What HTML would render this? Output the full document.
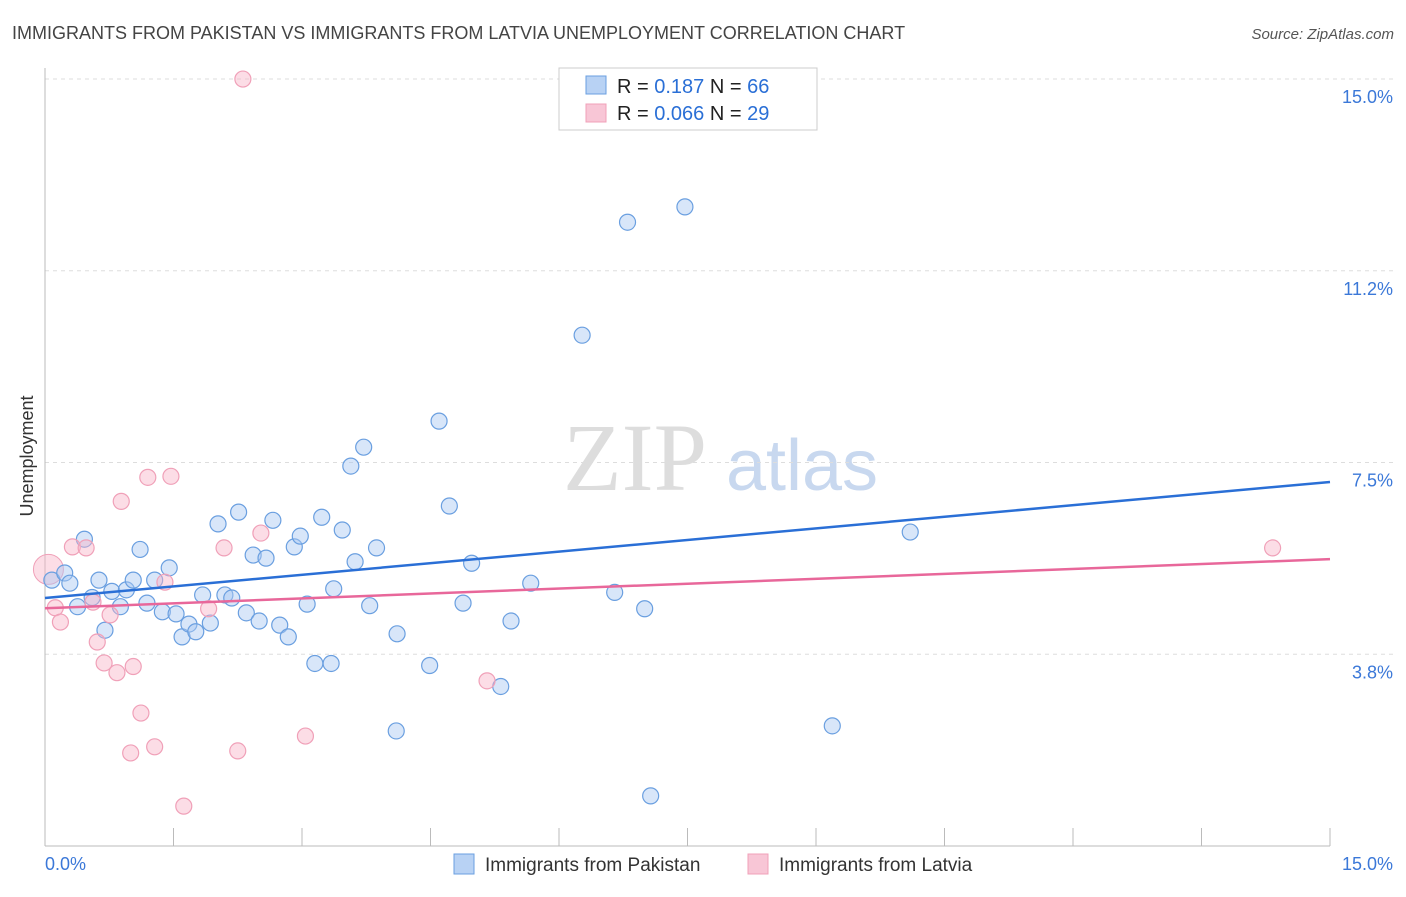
<!DOCTYPE html>
<html><head><meta charset="utf-8"><style>
body{margin:0;background:#fff;font-family:"Liberation Sans",sans-serif;}
</style></head><body>
<svg id="chart" width="1406" height="892" xmlns="http://www.w3.org/2000/svg" font-family="Liberation Sans, sans-serif">
<text x="12" y="39" font-size="18" fill="#444">IMMIGRANTS FROM PAKISTAN VS IMMIGRANTS FROM LATVIA UNEMPLOYMENT CORRELATION CHART</text>
<text x="1394" y="39" font-size="15" fill="#555" text-anchor="end" font-style="italic">Source: ZipAtlas.com</text>
<text transform="translate(33,456) rotate(-90)" font-size="18" fill="#333" text-anchor="middle">Unemployment</text>
<g>
<text x="635" y="490" font-size="96" fill="#ddd" font-family="Liberation Serif, serif" text-anchor="middle">ZIP</text>
<text x="802" y="490" font-size="72" fill="#c8d8ef" text-anchor="middle">atlas</text>
</g>
<g id="grid"></g><g id="axes"></g><g id="pts"></g><g id="lines"></g>
<g>
<rect x="559" y="68" width="258" height="62" fill="#fff" stroke="#ccc"/>
<rect x="586" y="76" width="20" height="18" fill="#b8d2f4" stroke="#6a9fe0"/>
<text x="617" y="93" font-size="20" fill="#222">R =  <tspan fill="#2a6fd6">0.187</tspan>    N = <tspan fill="#2a6fd6">66</tspan></text>
<rect x="586" y="104" width="20" height="18" fill="#f8c6d6" stroke="#f0a0b8"/>
<text x="617" y="120" font-size="20" fill="#222">R = <tspan fill="#2a6fd6">0.066</tspan>    N = <tspan fill="#2a6fd6">29</tspan></text>
</g>
<g>
<rect x="454" y="854" width="20" height="20" fill="#b8d2f4" stroke="#6a9fe0"/>
<text x="485" y="871" font-size="19" fill="#333">Immigrants from Pakistan</text>
<rect x="748" y="854" width="20" height="20" fill="#f8c6d6" stroke="#f0a0b8"/>
<text x="779" y="871" font-size="19" fill="#333">Immigrants from Latvia</text>
</g>
</svg>
<script>
const yTicks=[3.75,7.5,11.25,15];
const yTickLabels=["3.8%","7.5%","11.2%","15.0%"];
const xTicks=[0,1.5,3,4.5,6,7.5,9,10.5,12,13.5,15];
const pakX=[0.08,0.23,0.29,0.38,0.46,0.55,0.63,0.7,0.78,0.88,0.95,1.03,1.11,1.19,1.28,1.37,1.45,1.53,1.6,1.68,1.76,1.84,1.93,2.02,2.1,2.18,2.26,2.35,2.43,2.5,2.58,2.66,2.74,2.84,2.91,2.98,3.06,3.15,3.23,3.34,3.37,3.47,3.57,3.62,3.72,3.79,3.87,4.11,4.1,4.49,4.6,4.72,4.88,4.98,5.32,5.44,5.67,6.27,6.65,6.8,7.0,7.07,7.47,9.19,10.1];
const pakY=[5.2,5.34,5.14,4.68,6.0,4.86,5.2,4.22,4.98,4.68,5.01,5.2,5.8,4.75,5.2,4.58,5.44,4.54,4.09,4.34,4.19,4.91,4.36,6.3,4.91,4.85,6.53,4.56,5.69,4.4,5.63,6.37,4.32,4.09,5.85,6.06,4.73,3.57,6.43,3.57,5.03,6.18,7.43,5.56,7.8,4.7,5.83,4.15,2.25,3.53,8.31,6.65,4.75,5.53,3.12,4.4,5.14,9.99,4.96,12.2,4.64,0.98,12.5,2.35,6.14];
const latX=[0.04,0.12,0.18,0.32,0.48,0.56,0.61,0.69,0.76,0.84,0.89,1.03,1.12,1.0,1.2,1.28,1.4,1.47,1.62,1.91,2.09,2.25,2.31,2.52,3.04,5.16,14.33];
const latY=[5.41,4.66,4.38,5.85,5.83,4.77,3.99,3.58,4.52,3.39,6.74,3.51,2.6,1.82,7.21,1.94,5.16,7.23,0.78,4.64,5.83,1.86,15.0,6.12,2.15,3.23,5.83];
const pakTrend=[4.85,7.12];
const latTrend=[4.65,5.61];
const X=v=>45+v/15*1285, Y=v=>846-v*51.13;
const ns="http://www.w3.org/2000/svg";
function mk(tag,attrs,parent){const e=document.createElementNS(ns,tag);for(const k in attrs)e.setAttribute(k,attrs[k]);document.getElementById(parent).appendChild(e);return e;}
yTicks.forEach((t,i)=>{
 const l=mk('line',{x1:45,x2:1394,y1:Y(t),y2:Y(t),stroke:'#ddd','stroke-dasharray':'4,4'},'grid');
 
 
 const tx=mk('text',{x:1393,y:Y(t)+24,'font-size':18,fill:'#3b78d8','text-anchor':'end'},'axes');tx.textContent=yTickLabels[i];
 
 
});
const ax=mk('line',{x1:45,x2:1330,y1:846,y2:846,stroke:'#bbb'},'axes');


const ay=mk('line',{x1:45,x2:45,y1:68,y2:846,stroke:'#bbb'},'axes');


xTicks.forEach(t=>{const l=mk('line',{x1:X(t),x2:X(t),y1:828,y2:846,stroke:'#bbb'},'axes');
 
 });
[["0.0%",45,'start'],["15.0%",1393,'end']].forEach(a=>{const t=mk('text',{x:a[1],y:870,'font-size':18,fill:'#3b78d8','text-anchor':a[2]},'axes');t.textContent=a[0];
 
 });
const big=mk('circle',{cx:X(0.04),cy:Y(5.41),r:15,fill:'rgba(248,180,200,0.45)',stroke:'#f0a0b8'},'pts');


pakX.forEach((x,i)=>{const c=mk('circle',{cx:X(x),cy:Y(pakY[i]),r:8,fill:'rgba(168,200,242,0.45)',stroke:'#6a9fe0','stroke-width':1.2},'pts');
 
 });
latX.forEach((x,i)=>{if(i===0)return;const c=mk('circle',{cx:X(x),cy:Y(latY[i]),r:8,fill:'rgba(248,180,200,0.45)',stroke:'#f0a0b8','stroke-width':1.2},'pts');
 
 });
const l1=mk('line',{x1:X(0),x2:X(15),y1:Y(pakTrend[0]),y2:Y(pakTrend[1]),stroke:'#2a6fd6','stroke-width':2.5},'lines');


const l2=mk('line',{x1:X(0),x2:X(15),y1:Y(latTrend[0]),y2:Y(latTrend[1]),stroke:'#e8679a','stroke-width':2.5},'lines');


</script>
</body></html>
